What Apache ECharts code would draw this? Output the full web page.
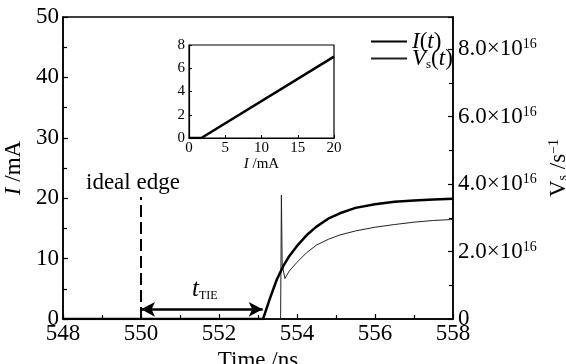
<!DOCTYPE html>
<html>
<head>
<meta charset="utf-8">
<script src="https://cdn.jsdelivr.net/npm/echarts@6/dist/echarts.min.js"></script>
<style>
html,body{margin:0;padding:0;background:#fff;}
#c{width:566px;height:364px;}
</style>
</head>
<body>
<div id="c"></div>
<script>
// ---- data ----
const xTicks = [548, 550, 552, 554, 556, 558];
const iTimes  = [548, 553.13, 553.3, 553.48, 553.65, 553.8, 554.0, 554.25, 554.5, 554.8, 555.1, 555.5, 556.0, 556.5, 557.0, 557.5, 558.0];
const iValues = [0,   0,      3.3,   6.5,    8.8,    10.4,  12.1,  13.9,   15.3,  16.6,  17.5,  18.4,  19.0,  19.4,  19.6,  19.8,  19.9];
const vTimes  = [548, 553.58, 553.6, 553.62, 553.69, 553.8, 554.0, 554.25, 554.5, 554.8, 555.1, 555.5, 556.0, 556.5, 557.0, 557.5, 558.0];
const vValues = [0,   0,      3.67e16, 1.6e16, 1.2e16, 1.42e16, 1.68e16, 1.97e16, 2.19e16, 2.36e16, 2.49e16, 2.61e16, 2.72e16, 2.80e16, 2.87e16, 2.92e16, 2.95e16];
const insetI  = [0, 1.7, 20];
const insetV  = [0, 0, 7];
const idealEdgeTime = 550;
const idealEdgeTop = 20.2;
const tieStart = 550, tieEnd = 553.12, tieLevel = 1.6;

const F = 'Liberation Serif';
const zip = (a, b) => a.map((v, i) => [v, b[i]]);

const chart = echarts.init(document.getElementById('c'), null, {renderer: 'canvas'});

const axisLine = {show: true, lineStyle: {color: '#000', width: 1.5}};
const baseLabel = {color: '#000', fontFamily: F, fontSize: 23};

chart.setOption({
  animation: false,
  backgroundColor: '#fff',
  grid: [
    {left: 63, right: 113, top: 17, bottom: 45, show: true, borderColor: '#000', borderWidth: 1.5, outerBoundsMode: 'none', containLabel: false},
    {left: 189, top: 45, width: 145, height: 93, show: true, borderColor: '#000', borderWidth: 1.2, outerBoundsMode: 'none', containLabel: false}
  ],
  legend: {
    orient: 'vertical', left: 365, top: 25, itemGap: -6, itemWidth: 36, itemHeight: 10,
    data: ['I(t)', 'Vs(t)'],
    itemStyle: {opacity: 0},
    formatter: n => n === 'I(t)' ? '{i|I}({i|t})' : '{i|V}{sub|s}({i|t})',
    textStyle: {
      color: '#000', fontFamily: F, fontSize: 23, lineHeight: 17,
      rich: {
        i: {fontStyle: 'italic', fontFamily: F, fontSize: 23, lineHeight: 17},
        sub: {fontFamily: F, fontSize: 13, lineHeight: 17, verticalAlign: 'bottom', padding: [0, 0, -4, 0]}
      }
    }
  },
  xAxis: [
    {
      type: 'value', gridIndex: 0, min: 548, max: 558, interval: 2,
      axisLine, axisTick: {show: true, inside: true, length: 5, lineStyle: {color: '#000', width: 1.2}},
      minorTick: {show: true, splitNumber: 2, length: 4, lineStyle: {color: '#000', width: 1.2}},
      splitLine: {show: false},
      axisLabel: Object.assign({margin: 3, formatter: v => xTicks.includes(v) ? String(v) : ''}, baseLabel),
      name: 'Time /ns', nameLocation: 'middle', nameGap: 24,
      nameTextStyle: {color: '#000', fontFamily: F, fontSize: 23}
    },
    {
      type: 'value', gridIndex: 1, min: 0, max: 20, interval: 5,
      axisLine: {show: true, lineStyle: {color: '#000', width: 1.2}},
      axisTick: {show: true, inside: true, length: 3, lineStyle: {color: '#000'}},
      splitLine: {show: false},
      axisLabel: {color: '#000', fontFamily: F, fontSize: 15, margin: 3},
      name: '{i|I} /mA', nameLocation: 'middle', nameGap: 17,
      nameTextStyle: {color: '#000', fontFamily: F, fontSize: 15, rich: {i: {fontStyle: 'italic', fontFamily: F, fontSize: 15}}}
    }
  ],
  yAxis: [
    {
      type: 'value', gridIndex: 0, min: 0, max: 50, interval: 10,
      axisLine, axisTick: {show: true, inside: true, length: 5, lineStyle: {color: '#000', width: 1.2}},
      minorTick: {show: true, splitNumber: 2, length: 4, lineStyle: {color: '#000', width: 1.2}},
      splitLine: {show: false},
      axisLabel: Object.assign({margin: 4}, baseLabel),
      name: '{i|I} /mA', nameLocation: 'middle', nameGap: 28, nameRotate: 90,
      nameTextStyle: {color: '#000', fontFamily: F, fontSize: 23, rich: {i: {fontStyle: 'italic', fontFamily: F, fontSize: 23}}}
    },
    {
      type: 'value', gridIndex: 0, position: 'right', min: 0, max: 8.95e16, interval: 2e16,
      axisLine, axisTick: {show: true, inside: true, length: 5, lineStyle: {color: '#000', width: 1.2}},
      minorTick: {show: true, splitNumber: 2, length: 4, lineStyle: {color: '#000', width: 1.2}},
      splitLine: {show: false},
      axisLabel: {
        margin: 5, color: '#000', fontFamily: F, fontSize: 23,
        formatter: v => {
          if (v === 0) return '0';
          const m = v / 1e16;
          if (Math.abs(m - Math.round(m)) > 1e-6 || Math.round(m) % 2 !== 0) return '';
          return '{n|' + m.toFixed(1) + '×10}{sup|16}';
        },
        rich: {
          n: {fontFamily: F, fontSize: 23, color: '#000'},
          sup: {fontFamily: F, fontSize: 14, color: '#000', verticalAlign: 'top'}
        }
      },
      name: 'V{sub|s} /s{sup|−1}', nameLocation: 'middle', nameGap: 85, nameRotate: 90,
      nameTextStyle: {
        color: '#000', fontFamily: F, fontSize: 23,
        rich: {
          sub: {fontFamily: F, fontSize: 14, verticalAlign: 'bottom'},
          sup: {fontFamily: F, fontSize: 14, verticalAlign: 'top'}
        }
      }
    },
    {
      type: 'value', gridIndex: 1, min: 0, max: 8, interval: 2,
      axisLine: {show: true, lineStyle: {color: '#000', width: 1.2}},
      axisTick: {show: true, inside: true, length: 3, lineStyle: {color: '#000'}},
      splitLine: {show: false},
      axisLabel: {color: '#000', fontFamily: F, fontSize: 15, margin: 4}
    }
  ],
  series: [
    {
      name: 'I(t)', type: 'line', xAxisIndex: 0, yAxisIndex: 0, symbol: 'none',
      data: zip(iTimes, iValues), lineStyle: {color: '#000', width: 2.5}, itemStyle: {color: '#000'},
      z: 3,
      markLine: {
        silent: true, animation: false, label: {show: false},
        data: [
          [
            {coord: [idealEdgeTime, 0], symbol: 'none', lineStyle: {color: '#000', width: 2, type: [12, 5]}},
            {coord: [idealEdgeTime, idealEdgeTop], symbol: 'none'}
          ],
          [
            {coord: [tieStart, tieLevel], symbol: 'arrow', symbolSize: [11, 14], lineStyle: {color: '#000', width: 2.5, type: 'solid'}},
            {coord: [tieEnd, tieLevel], symbol: 'arrow', symbolSize: [11, 14]}
          ]
        ]
      }
    },
    {
      name: 'Vs(t)', type: 'line', xAxisIndex: 0, yAxisIndex: 1, symbol: 'none',
      data: zip(vTimes, vValues), lineStyle: {color: '#222', width: 1}, itemStyle: {color: '#222'},
      z: 2
    },
    {
      name: 'inset', type: 'line', xAxisIndex: 1, yAxisIndex: 2, symbol: 'none',
      data: zip(insetI, insetV), lineStyle: {color: '#000', width: 2.5}
    }
  ],
  graphic: [
    {type: 'text', left: 86, top: 171, style: {text: 'ideal edge', font: '23px "Liberation Serif"', fill: '#000'}},
    {type: 'text', left: 192, top: 277, style: {
      text: '{t|t}{s|TIE}', fill: '#000',
      rich: {
        t: {fontFamily: F, fontStyle: 'italic', fontSize: 25, fill: '#000'},
        s: {fontFamily: F, fontSize: 12, verticalAlign: 'bottom', fill: '#000'}
      }
    }}
  ]
});
</script>
</body>
</html>
